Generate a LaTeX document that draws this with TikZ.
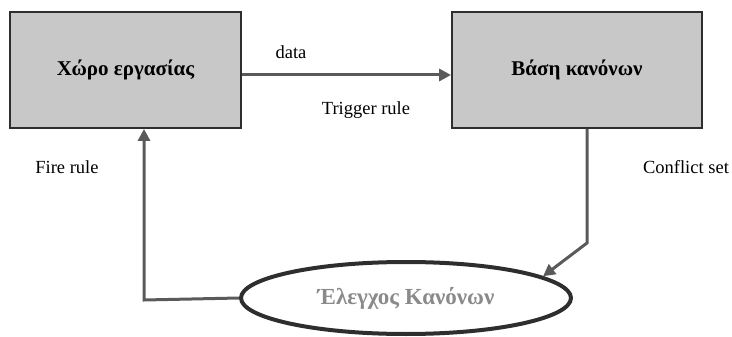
\documentclass[tikz,border=0pt]{standalone}
\usepackage{fontspec}
\setmainfont{Liberation Serif}
\usetikzlibrary{arrows.meta,shapes.geometric}
\definecolor{boxfill}{HTML}{C8C8C8}
\definecolor{boxline}{HTML}{2E2E2E}
\definecolor{wire}{HTML}{5A5A5A}
\definecolor{ovaltext}{HTML}{8A8A8A}
\begin{document}
\begin{tikzpicture}[x=1pt,y=-1pt,
  block/.style={draw=boxline,line width=1.8pt,fill=boxfill,minimum width=231pt,minimum height=116pt,
    font=\fontsize{21}{24}\selectfont\bfseries,inner sep=0pt},
  oval/.style={ellipse,draw=boxline,line width=4pt,minimum width=330pt,minimum height=72pt,
    font=\fontsize{23}{26}\selectfont\bfseries,text=ovaltext,inner sep=0pt},
  wireline/.style={draw=wire,line width=3pt,-{Triangle[length=12pt,width=12pt]}},
  lbl/.style={font=\fontsize{18.5}{22}\selectfont,inner sep=0pt}]
\useasboundingbox (0,0) rectangle (732,337);
\node[block] (ws) at (125.5,70) {Χώρο εργασίας};
\node[block,minimum width=250pt] (kb) at (577,70) {Βάση κανόνων};
\node[oval] (rc) at (406,298) {Έλεγχος Κανόνων};
\coordinate (bend1) at (587,243);
\coordinate (bend2) at (144,300);
\draw[wireline] (ws.east |- 0,75) -- (kb.west |- 0,75);
\draw[wireline] (kb.south -| bend1) -- (bend1) -- (rc.9);
\draw[wireline] (rc.west) -- (bend2) -- (bend2 |- ws.south);
\node[lbl] (data) at (291,52) {data};
\node[lbl] (trig) at (366,110) {Trigger rule};
\node[lbl] (fire) at (67,167) {Fire rule};
\node[lbl] (conf) at (686,167) {Conflict set};
\end{tikzpicture}
\end{document}
